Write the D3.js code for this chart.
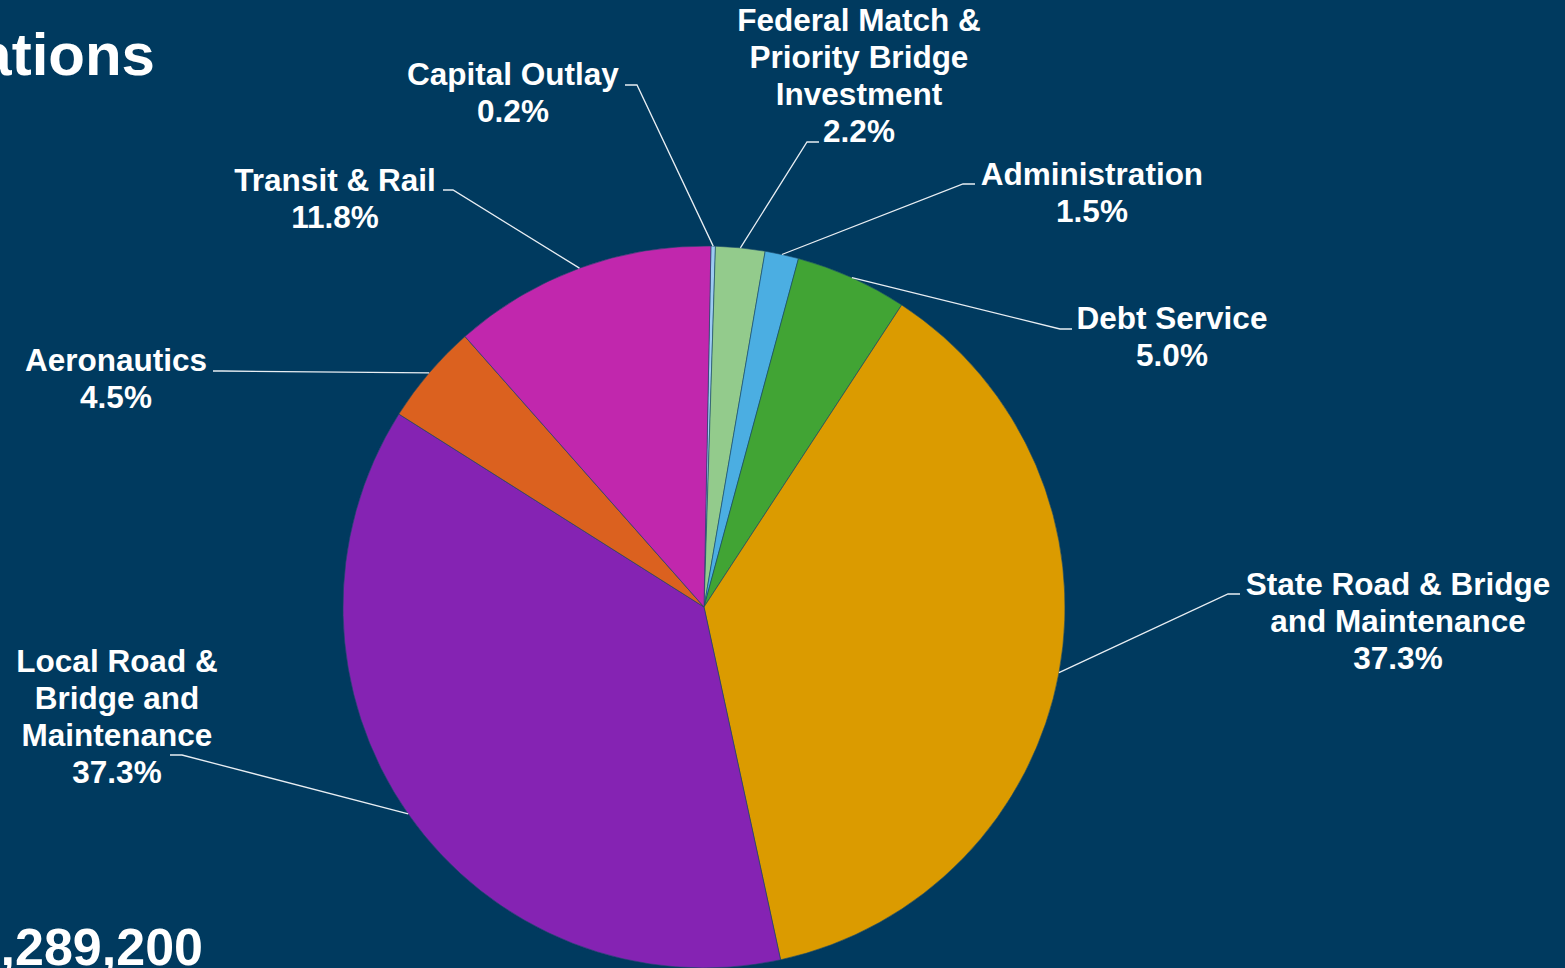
<!DOCTYPE html>
<html>
<head>
<meta charset="utf-8">
<script src="https://cdn.jsdelivr.net/npm/d3@7"></script>
<style>
  html, body { margin: 0; padding: 0; background: #003A5F; overflow: hidden; }
  svg { display: block; }
  text { font-family: "Liberation Sans", Arial, sans-serif; font-weight: bold; fill: #ffffff; }
</style>
</head>
<body>
<svg id="chart" width="1565" height="968"></svg>
<script>
// ---- data ----
const categories = [
  "Capital Outlay",
  "Federal Match & Priority Bridge Investment",
  "Administration",
  "Debt Service",
  "State Road & Bridge and Maintenance",
  "Local Road & Bridge and Maintenance",
  "Aeronautics",
  "Transit & Rail"
];
const shares = [0.2, 2.2, 1.5, 5.0, 37.3, 37.3, 4.5, 11.8];
const labelLines = [
  ["Capital Outlay"],
  ["Federal Match &", "Priority Bridge", "Investment"],
  ["Administration"],
  ["Debt Service"],
  ["State Road & Bridge", "and Maintenance"],
  ["Local Road &", "Bridge and", "Maintenance"],
  ["Aeronautics"],
  ["Transit & Rail"]
];
const colors = ["#9CCBF2", "#93CB8C", "#4BAEE2", "#41A434", "#DB9B00", "#8523B3", "#DB611F", "#C127AD"];
const titleText = "Appropriations";
const totalText = ",289,200";

// ---- layout (positions only) ----
const cx = 704, cy = 607, R = 361;
const startOffset = 1.1 * Math.PI / 180;
// label centre x, first baseline y, elbow point, end point of leader
const labelLayout = [
  { x: 513, y: 85,  elbow: [637, 85],  end: [625, 85] },
  { x: 859, y: 31,  elbow: [807, 142], end: [819, 142] },
  { x: 1092, y: 185, elbow: [963, 184], end: [975, 184] },
  { x: 1172, y: 329, elbow: [1060, 329], end: [1072, 329] },
  { x: 1398, y: 595, elbow: [1228, 594], end: [1240, 594] },
  { x: 117, y: 672, elbow: [182, 755], end: [170, 755] },
  { x: 116, y: 371, elbow: [222, 371], end: [213, 371] },
  { x: 335, y: 191, elbow: [453, 190], end: [443, 190] }
];
const lineH = 37;

const svg = d3.select("#chart");

// title fragments
svg.append("text").attr("x", 155).attr("y", 75).attr("text-anchor", "end")
  .style("font-size", "60px").text(titleText);
svg.append("text").attr("x", 203).attr("y", 965).attr("text-anchor", "end")
  .style("font-size", "52px").text(totalText);

const data = categories.map((c, i) => ({ name: c, value: shares[i], i }));
const pie = d3.pie().value(d => d.value).sort(null)
  .startAngle(startOffset).endAngle(startOffset + 2 * Math.PI);
const arcs = pie(data);
const arc = d3.arc().innerRadius(0).outerRadius(R);

const g = svg.append("g").attr("transform", `translate(${cx},${cy})`);
g.selectAll("path").data(arcs).join("path")
  .attr("d", arc)
  .attr("fill", d => colors[d.data.i])
  .attr("stroke", "#1B4A6A")
  .attr("stroke-width", 0.6);

// leader lines
arcs.forEach(a => {
  const i = a.data.i;
  const mid = (a.startAngle + a.endAngle) / 2;
  const px = cx + R * Math.sin(mid), py = cy - R * Math.cos(mid);
  const L = labelLayout[i];
  svg.append("polyline")
    .attr("points", `${px},${py} ${L.elbow[0]},${L.elbow[1]} ${L.end[0]},${L.end[1]}`)
    .attr("fill", "none").attr("stroke", "#E8EEF3").attr("stroke-width", 1.3);
});

// labels
arcs.forEach(a => {
  const i = a.data.i;
  const L = labelLayout[i];
  const lines = labelLines[i].concat([d3.format(".1f")(shares[i]) + "%"]);
  const t = svg.append("text").attr("text-anchor", "middle").style("font-size", "31.5px");
  lines.forEach((ln, k) => {
    t.append("tspan").attr("x", L.x).attr("y", L.y + k * lineH).text(ln);
  });
});
</script>
</body>
</html>
